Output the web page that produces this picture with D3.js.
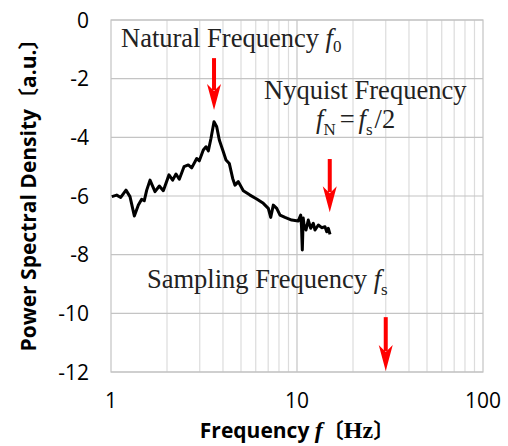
<!DOCTYPE html>
<html><head><meta charset="utf-8">
<script src="https://cdn.jsdelivr.net/npm/d3@7"></script>
<style>body{margin:0;background:#fff}svg{display:block}</style>
</head><body>
<svg id="c" width="508" height="446"></svg>
<script>
const freq = [1.01,1.073,1.128,1.204,1.265,1.335,1.403,1.462,1.51,1.556,1.621,1.724,1.819,1.911,2.05,2.146,2.236,2.329,2.469,2.604,2.716,2.889,2.984,3.135,3.242,3.336,3.449,3.579,3.701,3.822,4.016,4.152,4.325,4.511,4.642,4.835,5.144,5.589,6.072,6.589,7.01,7.222,7.458,7.78,8.104,8.62,9.365,10.16,10.47,10.57,10.68,10.80,10.90,11.18,11.50,11.85,12.24,12.50,13.02,13.58,14.14,14.45,14.73,15.05];
const psd  = [-6.02,-5.97,-6.05,-5.80,-6.02,-6.68,-6.31,-6.11,-6.16,-5.80,-5.46,-5.85,-5.66,-5.82,-5.28,-5.46,-5.25,-5.43,-5.00,-4.94,-5.04,-4.72,-4.80,-4.43,-4.32,-4.46,-4.03,-3.47,-3.64,-4.09,-4.49,-4.77,-4.89,-5.40,-5.63,-5.51,-5.82,-5.97,-6.10,-6.25,-6.42,-6.73,-6.31,-6.42,-6.65,-6.73,-6.82,-6.85,-6.65,-7.02,-7.84,-6.75,-6.96,-7.16,-6.82,-7.10,-6.93,-7.16,-6.99,-7.08,-7.05,-7.22,-7.10,-7.31];
const yTicks = [0,-2,-4,-6,-8,-10,-12];
const xTicks = [1,10,100];
const arrowF = [3.58, 15, 30];
const arrowTop = [-1.30, -4.74, -10.13];
const arrowTip = [-3.07, -6.55, -11.97];

const svg = d3.select("#c");
const x = d3.scaleLog().domain([1,100]).range([111,483]);
const y = d3.scaleLinear().domain([-12,0]).range([372,20]);

// grid
const minor = [];
[1,10].forEach(d=>{for(let k=2;k<=9;k++)minor.push(d*k);});
svg.append("g").selectAll("line").data(minor).join("line")
  .attr("x1",d=>x(d)).attr("x2",d=>x(d)).attr("y1",y(0)).attr("y2",y(-12))
  .attr("stroke","#dcdcdc").attr("stroke-width",1.2);
svg.append("g").selectAll("line").data([10]).join("line")
  .attr("x1",d=>x(d)).attr("x2",d=>x(d)).attr("y1",y(0)).attr("y2",y(-12))
  .attr("stroke","#c4c4c4").attr("stroke-width",1.2);
svg.append("g").selectAll("line").data(yTicks).join("line")
  .attr("x1",x(1)).attr("x2",x(100)).attr("y1",d=>y(d)).attr("y2",d=>y(d))
  .attr("stroke","#c4c4c4").attr("stroke-width",1.2);
svg.append("rect").attr("x",x(1)).attr("y",y(0)).attr("width",x(100)-x(1)).attr("height",y(-12)-y(0))
  .attr("fill","none").attr("stroke","#c4c4c4").attr("stroke-width",1.2);

// axes labels
const tickFont = "'Open Sans', sans-serif";
svg.append("g").selectAll("text").data(yTicks).join("text")
  .attr("x",89).attr("y",d=>y(d)).attr("dy","0.36em").attr("text-anchor","end")
  .attr("font-family",tickFont).attr("font-size",21).attr("fill","#000").text(d=>d);
svg.append("g").selectAll("text").data(xTicks).join("text")
  .attr("x",d=>x(d)).attr("y",408).attr("text-anchor","middle")
  .attr("font-family",tickFont).attr("font-size",21).attr("fill","#000").text(d=>d);

// x title
const xt = svg.append("text").attr("x",297).attr("y",438).attr("text-anchor","middle")
  .attr("font-size",21).attr("font-weight","bold").attr("fill","#000");
xt.append("tspan").attr("font-family",tickFont).text("Frequency ");
xt.append("tspan").attr("font-family","'Liberation Serif', serif").attr("font-style","italic").attr("font-size",24).text("f");
xt.append("tspan").attr("font-family","'Noto Sans CJK JP', serif").text("〔");
xt.append("tspan").attr("font-family","'Liberation Serif', serif").attr("font-size",24).text("Hz");
xt.append("tspan").attr("font-family","'Noto Sans CJK JP', serif").text("〕");

// y title
const yt = svg.append("text").attr("transform","translate(36,190) rotate(-90)").attr("text-anchor","middle")
  .attr("font-size",21).attr("font-weight","bold").attr("fill","#000").attr("font-family",tickFont);
yt.append("tspan").text("Power Spectral Density");
yt.append("tspan").attr("font-family","'Noto Sans CJK JP', sans-serif").text("〔");
yt.append("tspan").text("a.u.");
yt.append("tspan").attr("font-family","'Noto Sans CJK JP', sans-serif").text("〕");

// curve
const pts = freq.map((f,i)=>[f,psd[i]]);
svg.append("path").datum(pts)
  .attr("d", d3.line().x(d=>x(d[0])).y(d=>y(d[1])))
  .attr("fill","none").attr("stroke","#000").attr("stroke-width",3).attr("stroke-linejoin","round");

// arrows
arrowF.forEach((f,i)=>{
  const ax = x(f), y0 = y(arrowTop[i]), yt2 = y(arrowTip[i]);
  const hs = yt2 - 26;
  svg.append("rect").attr("x",ax-2).attr("y",y0).attr("width",4).attr("height",hs+6-y0).attr("fill","#ff0000");
  svg.append("path").attr("d",`M${ax-7},${hs} L${ax},${hs+7} L${ax+7},${hs} L${ax},${yt2} Z`).attr("fill","#ff0000");
});

// annotations
const serif = "'Liberation Serif', 'Times New Roman', serif";
function label(px, py, parts){
  const t = svg.append("text").attr("x",px).attr("y",py).attr("font-family",serif).attr("font-size",26.5).attr("fill","#222");
  parts.forEach(p=>{
    const s = t.append("tspan").text(p.t);
    if(p.i) s.attr("font-style","italic");
    if(p.sub) s.attr("font-size",17).attr("dy",p.dy||7);
    if(p.up) s.attr("dy",-(p.up));
    if(p.dx) s.attr("dx",p.dx);
  });
  return t;
}
label(121,47,[{t:"Natural Frequency "},{t:"f",i:1},{t:"0",sub:1,dy:5}]);
label(264,99,[{t:"Nyquist Frequency"}]);
label(316,128,[{t:"f",i:1},{t:"N",sub:1},{t:"=",up:7,dx:4},{t:"f",i:1,dx:4},{t:"s",sub:1},{t:"/2",up:7,dx:2}]);
label(147,288,[{t:"Sampling Frequency "},{t:"f",i:1},{t:"s",sub:1}]);
</script>
</body></html>
